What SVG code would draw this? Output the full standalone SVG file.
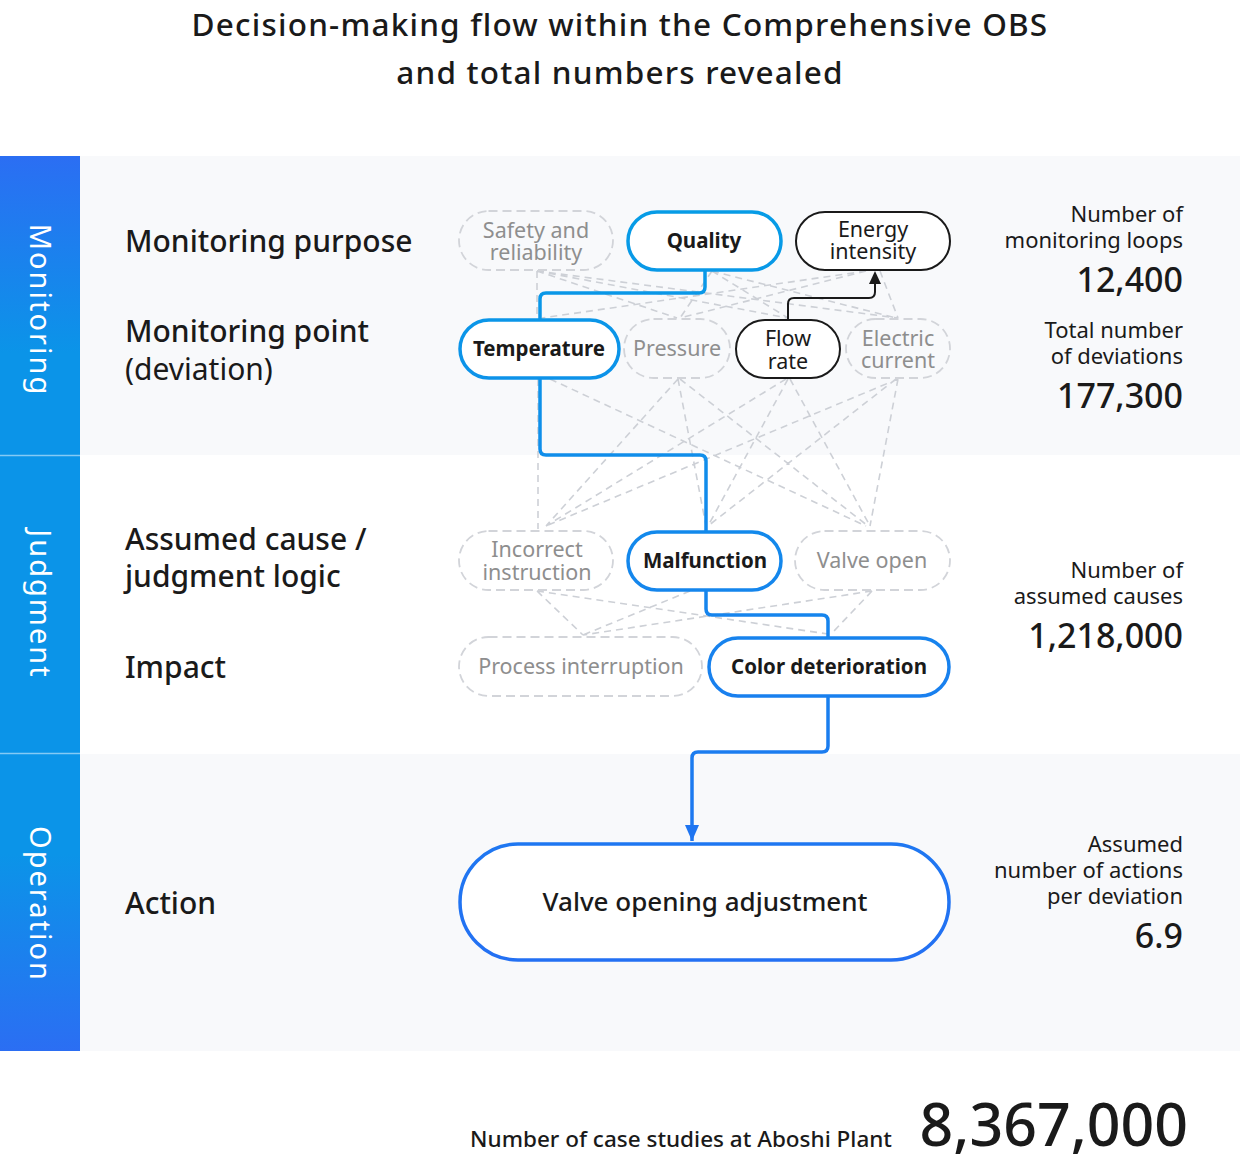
<svg xmlns="http://www.w3.org/2000/svg" width="1240" height="1164" viewBox="0 0 1240 1164">
<defs>
<linearGradient id="side" x1="0" y1="156" x2="0" y2="1051" gradientUnits="userSpaceOnUse">
<stop offset="0" stop-color="#2b6ef3"/>
<stop offset="0.22" stop-color="#0b94e8"/>
<stop offset="0.78" stop-color="#0b94e8"/>
<stop offset="1" stop-color="#2b6ef3"/>
</linearGradient>
<linearGradient id="blue" x1="0" y1="210" x2="0" y2="960" gradientUnits="userSpaceOnUse">
<stop offset="0" stop-color="#069ce6"/>
<stop offset="1" stop-color="#2370f3"/>
</linearGradient>
<marker id="arrB" markerUnits="userSpaceOnUse" markerWidth="16" markerHeight="14" viewBox="0 0 16 14" refX="16" refY="7" orient="auto">
<path d="M0 0 L16 7 L0 14 Z" fill="#1f75f1"/>
</marker>
</defs>
<style>
text{font-family:"Noto Sans","Open Sans","Liberation Sans",sans-serif;fill:#1a1a1a}
.title{font-size:31.5px;font-weight:500;letter-spacing:1.2px;text-anchor:middle}
.side{font-size:29px;fill:#ffffff;letter-spacing:2px;text-anchor:middle}
.lab{font-size:30px;font-weight:500}
.labr{font-size:30px;font-weight:400}
.stat{font-size:22px;text-anchor:end}
.num{font-size:34px;font-weight:500;text-anchor:end}
.ng{font-size:21.5px;fill:#8e8e8e;text-anchor:middle}
.nk{font-size:21.5px;text-anchor:middle}
.nb{font-size:20.5px;font-weight:700;text-anchor:middle}
.dnode{fill:none;stroke:#d2d4d9;stroke-width:1.8;stroke-dasharray:9 5}
.bnode{fill:#ffffff;stroke:url(#blue);stroke-width:3.5}
.knode{fill:#ffffff;stroke:#1a1a1a;stroke-width:2}
.dash{fill:none;stroke:#cdd0d6;stroke-width:1.6;stroke-dasharray:7 5}
.bl{fill:none;stroke:url(#blue);stroke-width:3.5;stroke-linejoin:round}
</style>
<rect width="1240" height="1164" fill="#ffffff"/>
<g id="background">
<rect x="80" y="156" width="1160" height="299" fill="#f8f9fb"/>
<rect x="80" y="455" width="1160" height="299" fill="#ffffff"/>
<rect x="80" y="754" width="1160" height="297" fill="#f8f9fb"/>
<rect x="0" y="156" width="80" height="895" fill="url(#side)"/>
<line x1="0" y1="455.5" x2="80" y2="455.5" stroke="#ffffff" stroke-opacity="0.5" stroke-width="1.5"/>
<line x1="0" y1="753.5" x2="80" y2="753.5" stroke="#ffffff" stroke-opacity="0.5" stroke-width="1.5"/>
</g>
<g id="title">
<text class="title" x="620" y="36">Decision-making flow within the Comprehensive OBS</text>
<text class="title" x="620" y="84">and total numbers revealed</text>
</g>
<g id="sidebar-labels">
<text class="side" transform="translate(30,310) rotate(90)">Monitoring</text>
<text class="side" transform="translate(30,604) rotate(90)">Judgment</text>
<text class="side" transform="translate(30,904) rotate(90)">Operation</text>
</g>
<g id="row-labels">
<text class="lab" x="125" y="252">Monitoring purpose</text>
<text class="lab" x="125" y="342">Monitoring point</text>
<text class="labr" x="125" y="380">(deviation)</text>
<text class="lab" x="125" y="550">Assumed cause /</text>
<text class="lab" x="125" y="587">judgment logic</text>
<text class="lab" x="125" y="678">Impact</text>
<text class="lab" x="125" y="914">Action</text>
</g>
<g id="connectors">
<path class="dash" d="M537 271 L537 318 M537 271 L677 318 M537 271 L788 318 M537 271 L898 318 M712 271 L680 318 M712 271 L788 318 M712 271 L896 318 M866 271 L542 318 M866 271 L680 318 M880 271 L898 318"/>
<path class="dash" d="M538 379 L538 529 M550 379 L866 526 M678 379 L546 526 M678 379 L706 526 M680 379 L868 526 M786 379 L546 526 M788 379 L708 526 M790 379 L870 526 M898 379 L546 526 M896 379 L708 526 M898 379 L870 526"/>
<path class="dash" d="M537 591 L583 635 M537 591 L828 634 M690 591 L583 635 M872 591 L583 635 M872 591 L834 631"/>
<path id="c-quality-temperature" class="bl" d="M705 271 V287 Q705 293 699 293 H546 Q540 293 540 299 V319"/>
<path id="c-temperature-malfunction" class="bl" d="M540 378 V449 Q540 455 546 455 H700 Q706 455 706 461 V531"/>
<path id="c-malfunction-color" class="bl" d="M706 590 V609 Q706 615 712 615 H822 Q828 615 828 621 V637"/>
<path id="c-color-action" class="bl" d="M828 696 V746 Q828 752 822 752 H698 Q692 752 692 758 V841" marker-end="url(#arrB)"/>
<path id="c-flow-energy" fill="none" stroke="#1a1a1a" stroke-width="2" d="M788 319 V304 Q788 298 794 298 H869 Q875 298 875 292 V284"/>
<path d="M875 271 L881 284 L869 284 Z" fill="#1a1a1a"/>
</g>
<g id="node-safety">
<rect class="dnode" x="459" y="211" width="154" height="59" rx="29.5"/>
<text class="ng" x="536" y="238">Safety and<tspan x="536" dy="22">reliability</tspan></text>
</g>
<g id="node-quality">
<rect class="bnode" x="628" y="212" width="153" height="58" rx="29"/>
<text class="nb" x="704" y="248">Quality</text>
</g>
<g id="node-energy">
<rect class="knode" x="796" y="212" width="154" height="58" rx="29"/>
<text class="nk" x="873" y="237">Energy<tspan x="873" dy="22">intensity</tspan></text>
</g>
<g id="node-temperature">
<rect class="bnode" x="460" y="320" width="159" height="58" rx="29"/>
<text class="nb" x="539" y="356">Temperature</text>
</g>
<g id="node-pressure">
<rect class="dnode" x="624" y="319" width="106" height="59" rx="29.5"/>
<text class="ng" x="677" y="356">Pressure</text>
</g>
<g id="node-flow">
<rect class="knode" x="736" y="320" width="104" height="58" rx="29"/>
<text class="nk" x="788" y="346">Flow<tspan x="788" dy="23">rate</tspan></text>
</g>
<g id="node-electric">
<rect class="dnode" x="846" y="319" width="104" height="59" rx="29.5"/>
<text class="ng" x="898" y="346">Electric<tspan x="898" dy="22">current</tspan></text>
</g>
<g id="node-incorrect">
<rect class="dnode" x="459" y="531" width="154" height="59" rx="29.5"/>
<text class="ng" x="537" y="557">Incorrect<tspan x="537" dy="23">instruction</tspan></text>
</g>
<g id="node-malfunction">
<rect class="bnode" x="628" y="532" width="153" height="58" rx="29"/>
<text class="nb" x="705" y="568">Malfunction</text>
</g>
<g id="node-valve-open">
<rect class="dnode" x="795" y="531" width="155" height="59" rx="29.5"/>
<text class="ng" x="872" y="568">Valve open</text>
</g>
<g id="node-process">
<rect class="dnode" x="459" y="637" width="243" height="59" rx="29.5"/>
<text class="ng" x="581" y="674">Process interruption</text>
</g>
<g id="node-color">
<rect class="bnode" x="709" y="638" width="240" height="58" rx="29"/>
<text class="nb" x="829" y="674">Color deterioration</text>
</g>
<g id="node-action">
<rect class="bnode" x="460" y="844" width="489" height="116" rx="58"/>
<text x="705" y="911" style="font-size:26px;font-weight:500;text-anchor:middle">Valve opening adjustment</text>
</g>
<g id="stats">
<text class="stat" x="1183" y="222">Number of<tspan x="1183" dy="26">monitoring loops</tspan></text>
<text class="num" x="1183" y="292">12,400</text>
<text class="stat" x="1183" y="338">Total number<tspan x="1183" dy="26">of deviations</tspan></text>
<text class="num" x="1183" y="408">177,300</text>
<text class="stat" x="1183" y="578">Number of<tspan x="1183" dy="26">assumed causes</tspan></text>
<text class="num" x="1183" y="648">1,218,000</text>
<text class="stat" x="1183" y="852">Assumed<tspan x="1183" dy="26">number of actions</tspan><tspan x="1183" dy="26">per deviation</tspan></text>
<text class="num" x="1183" y="948">6.9</text>
</g>
<g id="total">
<text x="892" y="1147" style="font-size:22.5px;font-weight:500;text-anchor:end">Number of case studies at Aboshi Plant</text>
<text x="1188" y="1146" style="font-size:59px;font-weight:500;text-anchor:end">8,367,000</text>
</g>
</svg>
